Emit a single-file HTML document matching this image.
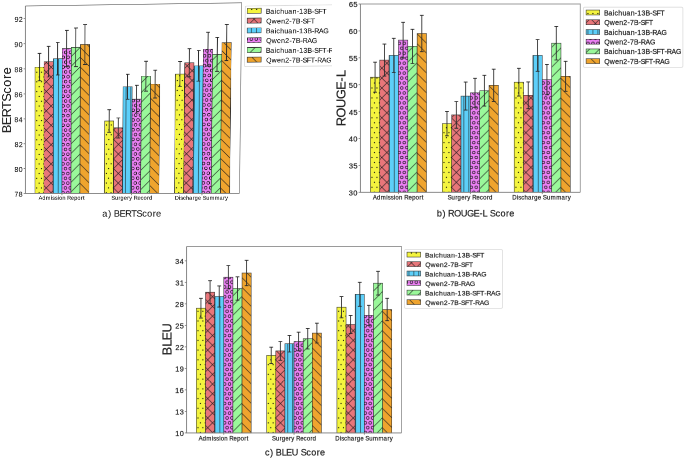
<!DOCTYPE html>
<html><head><meta charset="utf-8"><style>
html,body{margin:0;padding:0;background:#fff;width:685px;height:459px;overflow:hidden;}
svg{display:block;position:absolute;left:0;top:0;}
#cb{position:absolute;left:0;top:0;width:1370px;height:918px;transform-origin:0 0;transform:matrix3d(0.5,0,0,0.000000001,0,0.5,0,0,0,0,1,0,0,0,0,1);}
text{font-family:"Liberation Sans",sans-serif;}
#cb text{stroke:#222;stroke-width:0.2px;}
#ca text{stroke:#262626;stroke-width:0.12px;}
#ca{position:absolute;left:0;top:0;width:332.3px;height:232px;overflow:hidden;}
#ca div{position:absolute;left:0;top:0;width:720px;height:464px;transform-origin:0 0;transform:matrix3d(0.49516004,-0.00756736,0,-0.0000379299,0.00068394,0.50440580,0,0.0000269269,0,0,1,0,0.196928,0.321930,0,1);}
</style></head><body>
<div id="cb"><svg width="1370" height="918" viewBox="0 0 685 459">
<defs>
<pattern id="h0b" patternUnits="userSpaceOnUse" x="381.9" y="157.5" width="9.93" height="9.93"><rect width="9.93" height="9.93" fill="#f4f43e"/><circle cx="0" cy="0" r="0.62" fill="#111"/><circle cx="4.96" cy="0" r="0.62" fill="#111"/><circle cx="9.93" cy="0" r="0.62" fill="#111"/><circle cx="0" cy="9.93" r="0.62" fill="#111"/><circle cx="4.96" cy="9.93" r="0.62" fill="#111"/><circle cx="9.93" cy="9.93" r="0.62" fill="#111"/><circle cx="2.48" cy="4.96" r="0.62" fill="#111"/><circle cx="7.45" cy="4.96" r="0.62" fill="#111"/></pattern>
<pattern id="h1b" patternUnits="userSpaceOnUse" x="381.9" y="157.5" width="9.93" height="9.93"><rect width="9.93" height="9.93" fill="#e8767a"/><path d="M0 0L9.93 9.93M9.93 0L0 9.93" stroke="#1a1a1a" stroke-width="0.62" stroke-opacity="0.88"/></pattern>
<pattern id="h2b" patternUnits="userSpaceOnUse" x="381.9" y="157.5" width="9.93" height="9.93"><rect width="9.93" height="9.93" fill="#5dcff9"/><path d="M2.48 0V9.93M7.45 0V9.93" stroke="#1a1a1a" stroke-width="0.62" stroke-opacity="0.88"/></pattern>
<pattern id="h3b" patternUnits="userSpaceOnUse" x="381.9" y="157.5" width="9.93" height="9.93"><rect width="9.93" height="9.93" fill="#ec80f4"/><circle cx="0" cy="0" r="1.35" fill="none" stroke="#151515" stroke-width="0.6"/><circle cx="4.96" cy="0" r="1.35" fill="none" stroke="#151515" stroke-width="0.6"/><circle cx="9.93" cy="0" r="1.35" fill="none" stroke="#151515" stroke-width="0.6"/><circle cx="0" cy="9.93" r="1.35" fill="none" stroke="#151515" stroke-width="0.6"/><circle cx="4.96" cy="9.93" r="1.35" fill="none" stroke="#151515" stroke-width="0.6"/><circle cx="9.93" cy="9.93" r="1.35" fill="none" stroke="#151515" stroke-width="0.6"/><circle cx="2.48" cy="4.96" r="1.35" fill="none" stroke="#151515" stroke-width="0.6"/><circle cx="7.45" cy="4.96" r="1.35" fill="none" stroke="#151515" stroke-width="0.6"/></pattern>
<pattern id="h4b" patternUnits="userSpaceOnUse" x="381.9" y="157.5" width="9.93" height="9.93"><rect width="9.93" height="9.93" fill="#9af89a"/><path d="M0 9.93L9.93 0M-1 1L1 -1M8.93 10.93L10.93 8.93" stroke="#1a1a1a" stroke-width="0.62" stroke-opacity="0.88"/></pattern>
<pattern id="h5b" patternUnits="userSpaceOnUse" x="381.9" y="157.5" width="9.93" height="9.93"><rect width="9.93" height="9.93" fill="#efa42e"/><path d="M0 0L9.93 9.93M-1 8.93L1 10.93M8.93 -1L10.93 1" stroke="#1a1a1a" stroke-width="0.62" stroke-opacity="0.88"/></pattern>
<pattern id="h0c" patternUnits="userSpaceOnUse" x="207.7" y="388.9" width="9.7" height="9.7"><rect width="9.7" height="9.7" fill="#f4f43e"/><circle cx="0" cy="0" r="0.62" fill="#111"/><circle cx="4.85" cy="0" r="0.62" fill="#111"/><circle cx="9.7" cy="0" r="0.62" fill="#111"/><circle cx="0" cy="9.7" r="0.62" fill="#111"/><circle cx="4.85" cy="9.7" r="0.62" fill="#111"/><circle cx="9.7" cy="9.7" r="0.62" fill="#111"/><circle cx="2.42" cy="4.85" r="0.62" fill="#111"/><circle cx="7.27" cy="4.85" r="0.62" fill="#111"/></pattern>
<pattern id="h1c" patternUnits="userSpaceOnUse" x="207.7" y="388.9" width="9.7" height="9.7"><rect width="9.7" height="9.7" fill="#e8767a"/><path d="M0 0L9.7 9.7M9.7 0L0 9.7" stroke="#1a1a1a" stroke-width="0.62" stroke-opacity="0.88"/></pattern>
<pattern id="h2c" patternUnits="userSpaceOnUse" x="207.7" y="388.9" width="9.7" height="9.7"><rect width="9.7" height="9.7" fill="#5dcff9"/><path d="M2.42 0V9.7M7.27 0V9.7" stroke="#1a1a1a" stroke-width="0.62" stroke-opacity="0.88"/></pattern>
<pattern id="h3c" patternUnits="userSpaceOnUse" x="207.7" y="388.9" width="9.7" height="9.7"><rect width="9.7" height="9.7" fill="#ec80f4"/><circle cx="0" cy="0" r="1.35" fill="none" stroke="#151515" stroke-width="0.6"/><circle cx="4.85" cy="0" r="1.35" fill="none" stroke="#151515" stroke-width="0.6"/><circle cx="9.7" cy="0" r="1.35" fill="none" stroke="#151515" stroke-width="0.6"/><circle cx="0" cy="9.7" r="1.35" fill="none" stroke="#151515" stroke-width="0.6"/><circle cx="4.85" cy="9.7" r="1.35" fill="none" stroke="#151515" stroke-width="0.6"/><circle cx="9.7" cy="9.7" r="1.35" fill="none" stroke="#151515" stroke-width="0.6"/><circle cx="2.42" cy="4.85" r="1.35" fill="none" stroke="#151515" stroke-width="0.6"/><circle cx="7.27" cy="4.85" r="1.35" fill="none" stroke="#151515" stroke-width="0.6"/></pattern>
<pattern id="h4c" patternUnits="userSpaceOnUse" x="207.7" y="388.9" width="9.7" height="9.7"><rect width="9.7" height="9.7" fill="#9af89a"/><path d="M0 9.7L9.7 0M-1 1L1 -1M8.7 10.7L10.7 8.7" stroke="#1a1a1a" stroke-width="0.62" stroke-opacity="0.88"/></pattern>
<pattern id="h5c" patternUnits="userSpaceOnUse" x="207.7" y="388.9" width="9.7" height="9.7"><rect width="9.7" height="9.7" fill="#efa42e"/><path d="M0 0L9.7 9.7M-1 8.7L1 10.7M8.7 -1L10.7 1" stroke="#1a1a1a" stroke-width="0.62" stroke-opacity="0.88"/></pattern>
</defs>
<rect width="685" height="459" fill="#fff"/>
<rect x="370.4" y="77.2" width="9.35" height="115.1" fill="url(#h0b)" stroke="#222" stroke-width="0.55" stroke-opacity="0.9"/>
<rect x="379.74" y="60.1" width="9.35" height="132.2" fill="url(#h1b)" stroke="#222" stroke-width="0.55" stroke-opacity="0.9"/>
<rect x="389.09" y="55.4" width="9.35" height="136.9" fill="url(#h2b)" stroke="#222" stroke-width="0.55" stroke-opacity="0.9"/>
<rect x="398.44" y="40.1" width="9.35" height="152.2" fill="url(#h3b)" stroke="#222" stroke-width="0.55" stroke-opacity="0.9"/>
<rect x="407.79" y="46.4" width="9.35" height="145.9" fill="url(#h4b)" stroke="#222" stroke-width="0.55" stroke-opacity="0.9"/>
<rect x="417.14" y="33.5" width="9.35" height="158.8" fill="url(#h5b)" stroke="#222" stroke-width="0.55" stroke-opacity="0.9"/>
<rect x="442.31" y="123.6" width="9.35" height="68.7" fill="url(#h0b)" stroke="#222" stroke-width="0.55" stroke-opacity="0.9"/>
<rect x="451.65" y="114.9" width="9.35" height="77.4" fill="url(#h1b)" stroke="#222" stroke-width="0.55" stroke-opacity="0.9"/>
<rect x="461" y="96.1" width="9.35" height="96.2" fill="url(#h2b)" stroke="#222" stroke-width="0.55" stroke-opacity="0.9"/>
<rect x="470.35" y="92.8" width="9.35" height="99.5" fill="url(#h3b)" stroke="#222" stroke-width="0.55" stroke-opacity="0.9"/>
<rect x="479.7" y="90.7" width="9.35" height="101.6" fill="url(#h4b)" stroke="#222" stroke-width="0.55" stroke-opacity="0.9"/>
<rect x="489.05" y="85.3" width="9.35" height="107" fill="url(#h5b)" stroke="#222" stroke-width="0.55" stroke-opacity="0.9"/>
<rect x="514.21" y="82.2" width="9.35" height="110.1" fill="url(#h0b)" stroke="#222" stroke-width="0.55" stroke-opacity="0.9"/>
<rect x="523.56" y="95.3" width="9.35" height="97" fill="url(#h1b)" stroke="#222" stroke-width="0.55" stroke-opacity="0.9"/>
<rect x="532.91" y="55.4" width="9.35" height="136.9" fill="url(#h2b)" stroke="#222" stroke-width="0.55" stroke-opacity="0.9"/>
<rect x="542.26" y="79.6" width="9.35" height="112.7" fill="url(#h3b)" stroke="#222" stroke-width="0.55" stroke-opacity="0.9"/>
<rect x="551.61" y="43.2" width="9.35" height="149.1" fill="url(#h4b)" stroke="#222" stroke-width="0.55" stroke-opacity="0.9"/>
<rect x="560.96" y="76.3" width="9.35" height="116" fill="url(#h5b)" stroke="#222" stroke-width="0.55" stroke-opacity="0.9"/>
<path d="M375.07 62.2V92.2M373.17 62.2H376.97M373.17 92.2H376.97" stroke="#2a2a2a" stroke-width="0.85" fill="none"/>
<path d="M384.42 44.1V76.1M382.52 44.1H386.32M382.52 76.1H386.32" stroke="#2a2a2a" stroke-width="0.85" fill="none"/>
<path d="M393.77 38.3V72.5M391.87 38.3H395.67M391.87 72.5H395.67" stroke="#2a2a2a" stroke-width="0.85" fill="none"/>
<path d="M403.11 22.3V57.9M401.21 22.3H405.01M401.21 57.9H405.01" stroke="#2a2a2a" stroke-width="0.85" fill="none"/>
<path d="M412.46 29.3V63.5M410.56 29.3H414.36M410.56 63.5H414.36" stroke="#2a2a2a" stroke-width="0.85" fill="none"/>
<path d="M421.81 15.3V51.7M419.91 15.3H423.71M419.91 51.7H423.71" stroke="#2a2a2a" stroke-width="0.85" fill="none"/>
<path d="M446.98 111.4V135.8M445.08 111.4H448.88M445.08 135.8H448.88" stroke="#2a2a2a" stroke-width="0.85" fill="none"/>
<path d="M456.33 101.5V128.3M454.43 101.5H458.23M454.43 128.3H458.23" stroke="#2a2a2a" stroke-width="0.85" fill="none"/>
<path d="M465.68 82.1V110.1M463.78 82.1H467.58M463.78 110.1H467.58" stroke="#2a2a2a" stroke-width="0.85" fill="none"/>
<path d="M475.02 78.3V107.3M473.12 78.3H476.92M473.12 107.3H476.92" stroke="#2a2a2a" stroke-width="0.85" fill="none"/>
<path d="M484.37 75.3V106.1M482.47 75.3H486.27M482.47 106.1H486.27" stroke="#2a2a2a" stroke-width="0.85" fill="none"/>
<path d="M493.72 69.2V101.4M491.82 69.2H495.62M491.82 101.4H495.62" stroke="#2a2a2a" stroke-width="0.85" fill="none"/>
<path d="M518.89 68.3V96.1M516.99 68.3H520.79M516.99 96.1H520.79" stroke="#2a2a2a" stroke-width="0.85" fill="none"/>
<path d="M528.24 81.9V108.7M526.34 81.9H530.14M526.34 108.7H530.14" stroke="#2a2a2a" stroke-width="0.85" fill="none"/>
<path d="M537.59 39.5V71.3M535.69 39.5H539.49M535.69 71.3H539.49" stroke="#2a2a2a" stroke-width="0.85" fill="none"/>
<path d="M546.93 64.4V94.8M545.03 64.4H548.83M545.03 94.8H548.83" stroke="#2a2a2a" stroke-width="0.85" fill="none"/>
<path d="M556.28 26.4V60M554.38 26.4H558.18M554.38 60H558.18" stroke="#2a2a2a" stroke-width="0.85" fill="none"/>
<path d="M565.63 61.3V91.3M563.73 61.3H567.53M563.73 91.3H567.53" stroke="#2a2a2a" stroke-width="0.85" fill="none"/>
<path d="M360.4 4H580.3V192.3" fill="none" stroke="#9a9a9a" stroke-width="0.9"/>
<path d="M360.4 4V192.3H580.3" fill="none" stroke="#7a7a7a" stroke-width="0.9"/>
<line x1="358.6" y1="192.3" x2="360.4" y2="192.3" stroke="#7a7a7a" stroke-width="0.8"/>
<text x="348.77 353.31" y="195.45" font-size="7.51" fill="#262626">30</text>
<line x1="358.6" y1="165.4" x2="360.4" y2="165.4" stroke="#7a7a7a" stroke-width="0.8"/>
<text x="348.92 353.43" y="168.55" font-size="7.51" fill="#262626">35</text>
<line x1="358.6" y1="138.5" x2="360.4" y2="138.5" stroke="#7a7a7a" stroke-width="0.8"/>
<text x="348.76 353.31" y="141.65" font-size="7.51" fill="#262626">40</text>
<line x1="358.6" y1="111.6" x2="360.4" y2="111.6" stroke="#7a7a7a" stroke-width="0.8"/>
<text x="348.91 353.43" y="114.75" font-size="7.51" fill="#262626">45</text>
<line x1="358.6" y1="84.7" x2="360.4" y2="84.7" stroke="#7a7a7a" stroke-width="0.8"/>
<text x="348.73 353.31" y="87.85" font-size="7.51" fill="#262626">50</text>
<line x1="358.6" y1="57.8" x2="360.4" y2="57.8" stroke="#7a7a7a" stroke-width="0.8"/>
<text x="348.88 353.43" y="60.95" font-size="7.51" fill="#262626">55</text>
<line x1="358.6" y1="30.9" x2="360.4" y2="30.9" stroke="#7a7a7a" stroke-width="0.8"/>
<text x="348.76 353.31" y="34.05" font-size="7.51" fill="#262626">60</text>
<line x1="358.6" y1="4" x2="360.4" y2="4" stroke="#7a7a7a" stroke-width="0.8"/>
<text x="348.91 353.43" y="7.15" font-size="7.51" fill="#262626">65</text>
<line x1="398.44" y1="192.3" x2="398.44" y2="194.1" stroke="#7a7a7a" stroke-width="0.8"/>
<text x="372.82 376.93 380.78 386.23 387.73 390.74 393.85 395.4 399 402.58 404.25 408.45 412.08 415.64 419.38 421.74" y="199.6" font-size="6.06" fill="#262626">Admission Report</text>
<line x1="470.35" y1="192.3" x2="470.35" y2="194.1" stroke="#7a7a7a" stroke-width="0.8"/>
<text x="447.6 451.55 455.37 457.56 461.22 464.95 467.23 470.53 472.2 476.4 479.85 483.1 486.84 489.03" y="199.6" font-size="6.06" fill="#262626">Surgery Record</text>
<line x1="542.26" y1="192.3" x2="542.26" y2="194.1" stroke="#7a7a7a" stroke-width="0.8"/>
<text x="512.24 516.77 518.27 521.25 524.56 527.94 531.9 534.09 537.75 541.27 542.87 546.82 550.65 556.27 561.46 565.41 567.69" y="199.6" font-size="6.06" fill="#262626">Discharge Summary</text>
<text transform="translate(345.4,0) rotate(-90)" x="-126.19 -117.67 -108.02 -99.15 -89.87 -81.61 -77.17" y="0" font-size="12.85" fill="#262626">ROUGE-L</text>
<text x="436.88 442.49 445.57 448.06 454.07 460.87 467.12 473.66 479.49 482.62 487.48 489.87 495.59 500.45 506.04 509.31" y="216.6" font-size="9.06" fill="#262626">b) ROUGE-L Score</text>
<rect x="583.4" y="7.2" width="99.5" height="60.2" rx="1.5" fill="#fff" fill-opacity="0.8" stroke="#dcdcdc" stroke-width="0.8"/>
<rect x="586.1" y="10.05" width="13.6" height="4.9" fill="url(#h0b)" stroke="#333" stroke-width="0.55"/>
<text x="603.99 608.44 612.8 614.49 618.3 622.47 626.36 630.75 634.81 637.3 641.55 645.53 650.16 652.33 656.48 660.42" y="15.3" font-size="6.95" fill="#262626">Baichuan-13B-SFT</text>
<rect x="586.1" y="19.75" width="13.6" height="4.9" fill="url(#h1b)" stroke="#333" stroke-width="0.55"/>
<text x="604.23 609.73 615.07 619.21 623.31 627.47 629.98 633.98 638.61 640.78 644.93 648.88" y="25" font-size="6.95" fill="#262626">Qwen2-7B-SFT</text>
<rect x="586.1" y="29.55" width="13.6" height="4.9" fill="url(#h2b)" stroke="#333" stroke-width="0.55"/>
<text x="603.99 608.44 612.8 614.49 618.3 622.47 626.36 630.75 634.81 637.3 641.55 645.53 650.16 652.41 657.06 661.5" y="34.8" font-size="6.95" fill="#262626">Baichuan-13B-RAG</text>
<rect x="586.1" y="39.25" width="13.6" height="4.9" fill="url(#h3b)" stroke="#333" stroke-width="0.55"/>
<text x="604.23 609.73 615.07 619.21 623.31 627.47 629.98 633.98 638.61 640.86 645.51 649.95" y="44.5" font-size="6.95" fill="#262626">Qwen2-7B-RAG</text>
<rect x="586.1" y="48.95" width="13.6" height="4.9" fill="url(#h4b)" stroke="#333" stroke-width="0.55"/>
<text x="603.99 608.44 612.8 614.49 618.3 622.47 626.36 630.75 634.81 637.3 641.55 645.53 650.16 652.33 656.48 660.42 664.6 666.85 671.5 675.95" y="54.2" font-size="6.95" fill="#262626">Baichuan-13B-SFT-RAG</text>
<rect x="586.1" y="58.65" width="13.6" height="4.9" fill="url(#h5b)" stroke="#333" stroke-width="0.55"/>
<text x="604.23 609.73 615.07 619.21 623.31 627.47 629.98 633.98 638.61 640.78 644.93 648.88 653.06 655.3 659.95 664.4" y="63.9" font-size="6.95" fill="#262626">Qwen2-7B-SFT-RAG</text>
<rect x="196.37" y="308.2" width="9.14" height="124.7" fill="url(#h0c)" stroke="#222" stroke-width="0.55" stroke-opacity="0.9"/>
<rect x="205.5" y="292.2" width="9.14" height="140.7" fill="url(#h1c)" stroke="#222" stroke-width="0.55" stroke-opacity="0.9"/>
<rect x="214.64" y="296.5" width="9.14" height="136.4" fill="url(#h2c)" stroke="#222" stroke-width="0.55" stroke-opacity="0.9"/>
<rect x="223.78" y="277.2" width="9.14" height="155.7" fill="url(#h3c)" stroke="#222" stroke-width="0.55" stroke-opacity="0.9"/>
<rect x="232.91" y="288.5" width="9.14" height="144.4" fill="url(#h4c)" stroke="#222" stroke-width="0.55" stroke-opacity="0.9"/>
<rect x="242.05" y="273" width="9.14" height="159.9" fill="url(#h5c)" stroke="#222" stroke-width="0.55" stroke-opacity="0.9"/>
<rect x="266.64" y="355.4" width="9.14" height="77.5" fill="url(#h0c)" stroke="#222" stroke-width="0.55" stroke-opacity="0.9"/>
<rect x="275.78" y="350.9" width="9.14" height="82" fill="url(#h1c)" stroke="#222" stroke-width="0.55" stroke-opacity="0.9"/>
<rect x="284.91" y="343.7" width="9.14" height="89.2" fill="url(#h2c)" stroke="#222" stroke-width="0.55" stroke-opacity="0.9"/>
<rect x="294.05" y="341.5" width="9.14" height="91.4" fill="url(#h3c)" stroke="#222" stroke-width="0.55" stroke-opacity="0.9"/>
<rect x="303.19" y="338.7" width="9.14" height="94.2" fill="url(#h4c)" stroke="#222" stroke-width="0.55" stroke-opacity="0.9"/>
<rect x="312.32" y="333.1" width="9.14" height="99.8" fill="url(#h5c)" stroke="#222" stroke-width="0.55" stroke-opacity="0.9"/>
<rect x="336.92" y="307.2" width="9.14" height="125.7" fill="url(#h0c)" stroke="#222" stroke-width="0.55" stroke-opacity="0.9"/>
<rect x="346.05" y="324.5" width="9.14" height="108.4" fill="url(#h1c)" stroke="#222" stroke-width="0.55" stroke-opacity="0.9"/>
<rect x="355.19" y="294.3" width="9.14" height="138.6" fill="url(#h2c)" stroke="#222" stroke-width="0.55" stroke-opacity="0.9"/>
<rect x="364.32" y="315.4" width="9.14" height="117.5" fill="url(#h3c)" stroke="#222" stroke-width="0.55" stroke-opacity="0.9"/>
<rect x="373.46" y="283.2" width="9.14" height="149.7" fill="url(#h4c)" stroke="#222" stroke-width="0.55" stroke-opacity="0.9"/>
<rect x="382.6" y="309.5" width="9.14" height="123.4" fill="url(#h5c)" stroke="#222" stroke-width="0.55" stroke-opacity="0.9"/>
<path d="M200.94 298.3V318.1M199.04 298.3H202.84M199.04 318.1H202.84" stroke="#2a2a2a" stroke-width="0.85" fill="none"/>
<path d="M210.07 280.7V303.7M208.17 280.7H211.97M208.17 303.7H211.97" stroke="#2a2a2a" stroke-width="0.85" fill="none"/>
<path d="M219.21 285.9V307.1M217.31 285.9H221.11M217.31 307.1H221.11" stroke="#2a2a2a" stroke-width="0.85" fill="none"/>
<path d="M228.34 265.5V288.9M226.44 265.5H230.24M226.44 288.9H230.24" stroke="#2a2a2a" stroke-width="0.85" fill="none"/>
<path d="M237.48 276.8V300.2M235.58 276.8H239.38M235.58 300.2H239.38" stroke="#2a2a2a" stroke-width="0.85" fill="none"/>
<path d="M246.61 260.3V285.7M244.71 260.3H248.51M244.71 285.7H248.51" stroke="#2a2a2a" stroke-width="0.85" fill="none"/>
<path d="M271.21 347.2V363.6M269.31 347.2H273.11M269.31 363.6H273.11" stroke="#2a2a2a" stroke-width="0.85" fill="none"/>
<path d="M280.35 341.5V360.3M278.45 341.5H282.25M278.45 360.3H282.25" stroke="#2a2a2a" stroke-width="0.85" fill="none"/>
<path d="M289.48 335.4V352M287.58 335.4H291.38M287.58 352H291.38" stroke="#2a2a2a" stroke-width="0.85" fill="none"/>
<path d="M298.62 332.2V350.8M296.72 332.2H300.52M296.72 350.8H300.52" stroke="#2a2a2a" stroke-width="0.85" fill="none"/>
<path d="M307.75 328.4V349M305.85 328.4H309.65M305.85 349H309.65" stroke="#2a2a2a" stroke-width="0.85" fill="none"/>
<path d="M316.89 323.2V343M314.99 323.2H318.79M314.99 343H318.79" stroke="#2a2a2a" stroke-width="0.85" fill="none"/>
<path d="M341.49 296.6V317.8M339.59 296.6H343.39M339.59 317.8H343.39" stroke="#2a2a2a" stroke-width="0.85" fill="none"/>
<path d="M350.62 315.4V333.6M348.72 315.4H352.52M348.72 333.6H352.52" stroke="#2a2a2a" stroke-width="0.85" fill="none"/>
<path d="M359.76 282.3V306.3M357.86 282.3H361.66M357.86 306.3H361.66" stroke="#2a2a2a" stroke-width="0.85" fill="none"/>
<path d="M368.89 305.3V325.5M366.99 305.3H370.79M366.99 325.5H370.79" stroke="#2a2a2a" stroke-width="0.85" fill="none"/>
<path d="M378.03 271.3V295.1M376.13 271.3H379.93M376.13 295.1H379.93" stroke="#2a2a2a" stroke-width="0.85" fill="none"/>
<path d="M387.16 298.3V320.7M385.26 298.3H389.06M385.26 320.7H389.06" stroke="#2a2a2a" stroke-width="0.85" fill="none"/>
<path d="M186.6 246.5H401.5V432.9" fill="none" stroke="#9a9a9a" stroke-width="0.9"/>
<path d="M186.6 246.5V432.9H401.5" fill="none" stroke="#7a7a7a" stroke-width="0.9"/>
<line x1="184.8" y1="432.9" x2="186.6" y2="432.9" stroke="#7a7a7a" stroke-width="0.8"/>
<text x="175.2 179.69" y="435.85" font-size="7.35" fill="#262626">10</text>
<line x1="184.8" y1="411.39" x2="186.6" y2="411.39" stroke="#7a7a7a" stroke-width="0.8"/>
<text x="175.3 179.8" y="414.34" font-size="7.35" fill="#262626">13</text>
<line x1="184.8" y1="389.88" x2="186.6" y2="389.88" stroke="#7a7a7a" stroke-width="0.8"/>
<text x="175.18 179.67" y="392.83" font-size="7.35" fill="#262626">16</text>
<line x1="184.8" y1="368.38" x2="186.6" y2="368.38" stroke="#7a7a7a" stroke-width="0.8"/>
<text x="175.23 179.7" y="371.33" font-size="7.35" fill="#262626">19</text>
<line x1="184.8" y1="346.87" x2="186.6" y2="346.87" stroke="#7a7a7a" stroke-width="0.8"/>
<text x="175.38 179.84" y="349.82" font-size="7.35" fill="#262626">22</text>
<line x1="184.8" y1="325.36" x2="186.6" y2="325.36" stroke="#7a7a7a" stroke-width="0.8"/>
<text x="175.29 179.81" y="328.31" font-size="7.35" fill="#262626">25</text>
<line x1="184.8" y1="303.85" x2="186.6" y2="303.85" stroke="#7a7a7a" stroke-width="0.8"/>
<text x="175.16 179.71" y="306.8" font-size="7.35" fill="#262626">28</text>
<line x1="184.8" y1="282.35" x2="186.6" y2="282.35" stroke="#7a7a7a" stroke-width="0.8"/>
<text x="175.43 179.84" y="285.3" font-size="7.35" fill="#262626">31</text>
<line x1="184.8" y1="260.84" x2="186.6" y2="260.84" stroke="#7a7a7a" stroke-width="0.8"/>
<text x="175.18 179.62" y="263.79" font-size="7.35" fill="#262626">34</text>
<line x1="223.78" y1="432.9" x2="223.78" y2="434.7" stroke="#7a7a7a" stroke-width="0.8"/>
<text x="198.6 202.63 206.41 211.76 213.23 216.18 219.23 220.75 224.29 227.8 229.43 233.55 237.12 240.61 244.28 246.59" y="440.3" font-size="5.94" fill="#262626">Admission Report</text>
<line x1="294.05" y1="432.9" x2="294.05" y2="434.7" stroke="#7a7a7a" stroke-width="0.8"/>
<text x="272.03 275.91 279.65 281.8 285.39 289.05 291.28 294.52 296.16 300.28 303.66 306.85 310.52 312.67" y="440.3" font-size="5.94" fill="#262626">Surgery Record</text>
<line x1="364.32" y1="432.9" x2="364.32" y2="434.7" stroke="#7a7a7a" stroke-width="0.8"/>
<text x="335.3 339.74 341.22 344.14 347.39 350.7 354.59 356.74 360.32 363.78 365.35 369.23 372.98 378.49 383.58 387.46 389.69" y="440.3" font-size="5.94" fill="#262626">Discharge Summary</text>
<text transform="translate(171.6,0) rotate(-90)" x="-355.41 -346.8 -340.52 -332.47" y="0" font-size="12.87" fill="#262626">BLEU</text>
<text x="265.04 270.16 273.22 275.75 281.78 286.17 291.81 298.31 300.69 306.38 311.21 316.77 320.02" y="455.5" font-size="9.01" fill="#262626">c) BLEU Score</text>
<rect x="404.5" y="249.5" width="98" height="58.9" rx="1.5" fill="#fff" fill-opacity="0.8" stroke="#dcdcdc" stroke-width="0.8"/>
<rect x="407" y="252.15" width="13.6" height="4.9" fill="url(#h0c)" stroke="#333" stroke-width="0.55"/>
<text x="425.01 429.35 433.62 435.27 438.99 443.07 446.87 451.16 455.13 457.56 461.72 465.6 470.13 472.25 476.31 480.16" y="257.4" font-size="6.79" fill="#262626">Baichuan-13B-SFT</text>
<rect x="407" y="261.65" width="13.6" height="4.9" fill="url(#h1c)" stroke="#333" stroke-width="0.55"/>
<text x="425.24 430.62 435.84 439.88 443.88 447.95 450.41 454.31 458.84 460.97 465.02 468.87" y="266.9" font-size="6.79" fill="#262626">Qwen2-7B-SFT</text>
<rect x="407" y="271.05" width="13.6" height="4.9" fill="url(#h2c)" stroke="#333" stroke-width="0.55"/>
<text x="425.01 429.35 433.62 435.27 438.99 443.07 446.87 451.16 455.13 457.56 461.72 465.6 470.13 472.33 476.87 481.22" y="276.3" font-size="6.79" fill="#262626">Baichuan-13B-RAG</text>
<rect x="407" y="280.55" width="13.6" height="4.9" fill="url(#h3c)" stroke="#333" stroke-width="0.55"/>
<text x="425.24 430.62 435.84 439.88 443.88 447.95 450.41 454.31 458.84 461.04 465.58 469.93" y="285.8" font-size="6.79" fill="#262626">Qwen2-7B-RAG</text>
<rect x="407" y="290.15" width="13.6" height="4.9" fill="url(#h4c)" stroke="#333" stroke-width="0.55"/>
<text x="425.01 429.35 433.62 435.27 438.99 443.07 446.87 451.16 455.13 457.56 461.72 465.6 470.13 472.25 476.31 480.16 484.25 486.44 490.99 495.33" y="295.4" font-size="6.79" fill="#262626">Baichuan-13B-SFT-RAG</text>
<rect x="407" y="299.65" width="13.6" height="4.9" fill="url(#h5c)" stroke="#333" stroke-width="0.55"/>
<text x="425.24 430.62 435.84 439.88 443.88 447.95 450.41 454.31 458.84 460.97 465.02 468.87 472.96 475.16 479.7 484.04" y="304.9" font-size="6.79" fill="#262626">Qwen2-7B-SFT-RAG</text>
</svg></div>
<div id="ca"><div><svg width="720" height="464" viewBox="0 0 360 232">
<defs>
<pattern id="h0a" patternUnits="userSpaceOnUse" x="46.57" y="158.9" width="9.67" height="9.67"><rect width="9.67" height="9.67" fill="#f4f43e"/><circle cx="0" cy="0" r="0.62" fill="#111"/><circle cx="4.83" cy="0" r="0.62" fill="#111"/><circle cx="9.67" cy="0" r="0.62" fill="#111"/><circle cx="0" cy="9.67" r="0.62" fill="#111"/><circle cx="4.83" cy="9.67" r="0.62" fill="#111"/><circle cx="9.67" cy="9.67" r="0.62" fill="#111"/><circle cx="2.42" cy="4.83" r="0.62" fill="#111"/><circle cx="7.25" cy="4.83" r="0.62" fill="#111"/></pattern>
<pattern id="h1a" patternUnits="userSpaceOnUse" x="46.57" y="158.9" width="9.67" height="9.67"><rect width="9.67" height="9.67" fill="#e8767a"/><path d="M0 0L9.67 9.67M9.67 0L0 9.67" stroke="#1a1a1a" stroke-width="0.62" stroke-opacity="0.88"/></pattern>
<pattern id="h2a" patternUnits="userSpaceOnUse" x="46.57" y="158.9" width="9.67" height="9.67"><rect width="9.67" height="9.67" fill="#5dcff9"/><path d="M2.42 0V9.67M7.25 0V9.67" stroke="#1a1a1a" stroke-width="0.62" stroke-opacity="0.88"/></pattern>
<pattern id="h3a" patternUnits="userSpaceOnUse" x="46.57" y="158.9" width="9.67" height="9.67"><rect width="9.67" height="9.67" fill="#ec80f4"/><circle cx="0" cy="0" r="1.35" fill="none" stroke="#151515" stroke-width="0.6"/><circle cx="4.83" cy="0" r="1.35" fill="none" stroke="#151515" stroke-width="0.6"/><circle cx="9.67" cy="0" r="1.35" fill="none" stroke="#151515" stroke-width="0.6"/><circle cx="0" cy="9.67" r="1.35" fill="none" stroke="#151515" stroke-width="0.6"/><circle cx="4.83" cy="9.67" r="1.35" fill="none" stroke="#151515" stroke-width="0.6"/><circle cx="9.67" cy="9.67" r="1.35" fill="none" stroke="#151515" stroke-width="0.6"/><circle cx="2.42" cy="4.83" r="1.35" fill="none" stroke="#151515" stroke-width="0.6"/><circle cx="7.25" cy="4.83" r="1.35" fill="none" stroke="#151515" stroke-width="0.6"/></pattern>
<pattern id="h4a" patternUnits="userSpaceOnUse" x="46.57" y="158.9" width="9.67" height="9.67"><rect width="9.67" height="9.67" fill="#9af89a"/><path d="M0 9.67L9.67 0M-1 1L1 -1M8.67 10.67L10.67 8.67" stroke="#1a1a1a" stroke-width="0.62" stroke-opacity="0.88"/></pattern>
<pattern id="h5a" patternUnits="userSpaceOnUse" x="46.57" y="158.9" width="9.67" height="9.67"><rect width="9.67" height="9.67" fill="#efa42e"/><path d="M0 0L9.67 9.67M-1 8.67L1 10.67M8.67 -1L10.67 1" stroke="#1a1a1a" stroke-width="0.62" stroke-opacity="0.88"/></pattern>
<pattern id="h0la" patternUnits="userSpaceOnUse" x="246.9" y="7.67" width="9.67" height="9.67"><rect width="9.67" height="9.67" fill="#f4f43e"/><circle cx="0" cy="0" r="0.62" fill="#111"/><circle cx="4.83" cy="0" r="0.62" fill="#111"/><circle cx="9.67" cy="0" r="0.62" fill="#111"/><circle cx="0" cy="9.67" r="0.62" fill="#111"/><circle cx="4.83" cy="9.67" r="0.62" fill="#111"/><circle cx="9.67" cy="9.67" r="0.62" fill="#111"/><circle cx="2.42" cy="4.83" r="0.62" fill="#111"/><circle cx="7.25" cy="4.83" r="0.62" fill="#111"/></pattern>
<pattern id="h1la" patternUnits="userSpaceOnUse" x="246.9" y="7.67" width="9.67" height="9.67"><rect width="9.67" height="9.67" fill="#e8767a"/><path d="M0 0L9.67 9.67M9.67 0L0 9.67" stroke="#1a1a1a" stroke-width="0.62" stroke-opacity="0.88"/></pattern>
<pattern id="h2la" patternUnits="userSpaceOnUse" x="246.9" y="7.67" width="9.67" height="9.67"><rect width="9.67" height="9.67" fill="#5dcff9"/><path d="M2.42 0V9.67M7.25 0V9.67" stroke="#1a1a1a" stroke-width="0.62" stroke-opacity="0.88"/></pattern>
<pattern id="h3la" patternUnits="userSpaceOnUse" x="246.9" y="7.67" width="9.67" height="9.67"><rect width="9.67" height="9.67" fill="#ec80f4"/><circle cx="0" cy="0" r="1.35" fill="none" stroke="#151515" stroke-width="0.6"/><circle cx="4.83" cy="0" r="1.35" fill="none" stroke="#151515" stroke-width="0.6"/><circle cx="9.67" cy="0" r="1.35" fill="none" stroke="#151515" stroke-width="0.6"/><circle cx="0" cy="9.67" r="1.35" fill="none" stroke="#151515" stroke-width="0.6"/><circle cx="4.83" cy="9.67" r="1.35" fill="none" stroke="#151515" stroke-width="0.6"/><circle cx="9.67" cy="9.67" r="1.35" fill="none" stroke="#151515" stroke-width="0.6"/><circle cx="2.42" cy="4.83" r="1.35" fill="none" stroke="#151515" stroke-width="0.6"/><circle cx="7.25" cy="4.83" r="1.35" fill="none" stroke="#151515" stroke-width="0.6"/></pattern>
<pattern id="h4la" patternUnits="userSpaceOnUse" x="246.9" y="7.67" width="9.67" height="9.67"><rect width="9.67" height="9.67" fill="#9af89a"/><path d="M0 9.67L9.67 0M-1 1L1 -1M8.67 10.67L10.67 8.67" stroke="#1a1a1a" stroke-width="0.62" stroke-opacity="0.88"/></pattern>
<pattern id="h5la" patternUnits="userSpaceOnUse" x="246.9" y="7.67" width="9.67" height="9.67"><rect width="9.67" height="9.67" fill="#efa42e"/><path d="M0 0L9.67 9.67M-1 8.67L1 10.67M8.67 -1L10.67 1" stroke="#1a1a1a" stroke-width="0.62" stroke-opacity="0.88"/></pattern>
</defs>
<rect x="35.13" y="66.83" width="9.1" height="126.57" fill="url(#h0a)" stroke="#222" stroke-width="0.55" stroke-opacity="0.9"/>
<rect x="44.23" y="61.55" width="9.1" height="131.85" fill="url(#h1a)" stroke="#222" stroke-width="0.55" stroke-opacity="0.9"/>
<rect x="53.34" y="58.67" width="9.1" height="134.73" fill="url(#h2a)" stroke="#222" stroke-width="0.55" stroke-opacity="0.9"/>
<rect x="62.44" y="48.65" width="9.1" height="144.75" fill="url(#h3a)" stroke="#222" stroke-width="0.55" stroke-opacity="0.9"/>
<rect x="71.54" y="47.56" width="9.1" height="145.84" fill="url(#h4a)" stroke="#222" stroke-width="0.55" stroke-opacity="0.9"/>
<rect x="80.64" y="44.89" width="9.1" height="148.51" fill="url(#h5a)" stroke="#222" stroke-width="0.55" stroke-opacity="0.9"/>
<rect x="105.14" y="121.06" width="9.1" height="72.34" fill="url(#h0a)" stroke="#222" stroke-width="0.55" stroke-opacity="0.9"/>
<rect x="114.25" y="128.08" width="9.1" height="65.32" fill="url(#h1a)" stroke="#222" stroke-width="0.55" stroke-opacity="0.9"/>
<rect x="123.35" y="87.11" width="9.1" height="106.29" fill="url(#h2a)" stroke="#222" stroke-width="0.55" stroke-opacity="0.9"/>
<rect x="132.45" y="99.58" width="9.1" height="93.82" fill="url(#h3a)" stroke="#222" stroke-width="0.55" stroke-opacity="0.9"/>
<rect x="141.55" y="76.88" width="9.1" height="116.52" fill="url(#h4a)" stroke="#222" stroke-width="0.55" stroke-opacity="0.9"/>
<rect x="150.65" y="84.77" width="9.1" height="108.63" fill="url(#h5a)" stroke="#222" stroke-width="0.55" stroke-opacity="0.9"/>
<rect x="175.16" y="75.12" width="9.1" height="118.28" fill="url(#h0a)" stroke="#222" stroke-width="0.55" stroke-opacity="0.9"/>
<rect x="184.26" y="64.08" width="9.1" height="129.32" fill="url(#h1a)" stroke="#222" stroke-width="0.55" stroke-opacity="0.9"/>
<rect x="193.36" y="67.13" width="9.1" height="126.27" fill="url(#h2a)" stroke="#222" stroke-width="0.55" stroke-opacity="0.9"/>
<rect x="202.46" y="50.91" width="9.1" height="142.49" fill="url(#h3a)" stroke="#222" stroke-width="0.55" stroke-opacity="0.9"/>
<rect x="211.56" y="56.12" width="9.1" height="137.28" fill="url(#h4a)" stroke="#222" stroke-width="0.55" stroke-opacity="0.9"/>
<rect x="220.67" y="44.65" width="9.1" height="148.75" fill="url(#h5a)" stroke="#222" stroke-width="0.55" stroke-opacity="0.9"/>
<path d="M39.68 53.1V80.56M37.78 53.1H41.58M37.78 80.56H41.58" stroke="#2a2a2a" stroke-width="0.85" fill="none"/>
<path d="M48.78 46.35V76.75M46.88 46.35H50.68M46.88 76.75H50.68" stroke="#2a2a2a" stroke-width="0.85" fill="none"/>
<path d="M57.89 42.49V74.84M55.99 42.49H59.79M55.99 74.84H59.79" stroke="#2a2a2a" stroke-width="0.85" fill="none"/>
<path d="M66.99 30.62V66.67M65.09 30.62H68.89M65.09 66.67H68.89" stroke="#2a2a2a" stroke-width="0.85" fill="none"/>
<path d="M76.09 28.46V66.66M74.19 28.46H77.99M74.19 66.66H77.99" stroke="#2a2a2a" stroke-width="0.85" fill="none"/>
<path d="M85.19 25.12V64.67M83.29 25.12H87.09M83.29 64.67H87.09" stroke="#2a2a2a" stroke-width="0.85" fill="none"/>
<path d="M109.7 109.81V132.3M107.8 109.81H111.6M107.8 132.3H111.6" stroke="#2a2a2a" stroke-width="0.85" fill="none"/>
<path d="M118.8 118.13V138.03M116.9 118.13H120.7M116.9 138.03H120.7" stroke="#2a2a2a" stroke-width="0.85" fill="none"/>
<path d="M127.9 74.83V99.39M126 74.83H129.8M126 99.39H129.8" stroke="#2a2a2a" stroke-width="0.85" fill="none"/>
<path d="M137 85.81V113.35M135.1 85.81H138.9M135.1 113.35H138.9" stroke="#2a2a2a" stroke-width="0.85" fill="none"/>
<path d="M146.1 62.07V91.7M144.2 62.07H148M144.2 91.7H148" stroke="#2a2a2a" stroke-width="0.85" fill="none"/>
<path d="M155.2 70.94V98.6M153.3 70.94H157.1M153.3 98.6H157.1" stroke="#2a2a2a" stroke-width="0.85" fill="none"/>
<path d="M179.71 62.61V87.63M177.81 62.61H181.61M177.81 87.63H181.61" stroke="#2a2a2a" stroke-width="0.85" fill="none"/>
<path d="M188.81 50.22V77.95M186.91 50.22H190.71M186.91 77.95H190.71" stroke="#2a2a2a" stroke-width="0.85" fill="none"/>
<path d="M197.91 51.99V82.26M196.01 51.99H199.81M196.01 82.26H199.81" stroke="#2a2a2a" stroke-width="0.85" fill="none"/>
<path d="M207.01 34.35V67.48M205.11 34.35H208.91M205.11 67.48H208.91" stroke="#2a2a2a" stroke-width="0.85" fill="none"/>
<path d="M216.12 39.45V72.78M214.22 39.45H218.02M214.22 72.78H218.02" stroke="#2a2a2a" stroke-width="0.85" fill="none"/>
<path d="M225.22 26.95V62.36M223.32 26.95H227.12M223.32 62.36H227.12" stroke="#2a2a2a" stroke-width="0.85" fill="none"/>
<path d="M25.4 6H239.5V193.4" fill="none" stroke="#9a9a9a" stroke-width="0.9"/>
<path d="M25.4 6V193.4H239.5" fill="none" stroke="#7a7a7a" stroke-width="0.9"/>
<line x1="23.6" y1="193.4" x2="25.4" y2="193.4" stroke="#7a7a7a" stroke-width="0.8"/>
<text x="14.2 18.55" y="196.73 196.73" font-size="7.16" fill="#262626">78</text>
<line x1="23.6" y1="168.41" x2="25.4" y2="168.41" stroke="#7a7a7a" stroke-width="0.8"/>
<text x="14.22 18.55" y="171.71 171.72" font-size="7.15" fill="#262626">80</text>
<line x1="23.6" y1="143.43" x2="25.4" y2="143.43" stroke="#7a7a7a" stroke-width="0.8"/>
<text x="14.46 18.7" y="146.7 146.72" font-size="7.14" fill="#262626">82</text>
<line x1="23.6" y1="118.44" x2="25.4" y2="118.44" stroke="#7a7a7a" stroke-width="0.8"/>
<text x="14.18 18.5" y="121.68 121.71" font-size="7.13" fill="#262626">84</text>
<line x1="23.6" y1="93.45" x2="25.4" y2="93.45" stroke="#7a7a7a" stroke-width="0.8"/>
<text x="14.24 18.55" y="96.67 96.7" font-size="7.12" fill="#262626">86</text>
<line x1="23.6" y1="68.47" x2="25.4" y2="68.47" stroke="#7a7a7a" stroke-width="0.8"/>
<text x="14.29 18.6" y="71.65 71.69" font-size="7.11" fill="#262626">88</text>
<line x1="23.6" y1="43.48" x2="25.4" y2="43.48" stroke="#7a7a7a" stroke-width="0.8"/>
<text x="14.27 18.6" y="46.63 46.68" font-size="7.1" fill="#262626">90</text>
<line x1="23.6" y1="18.49" x2="25.4" y2="18.49" stroke="#7a7a7a" stroke-width="0.8"/>
<text x="14.51 18.74" y="21.62 21.68" font-size="7.09" fill="#262626">92</text>
<line x1="62.44" y1="193.4" x2="62.44" y2="195.2" stroke="#7a7a7a" stroke-width="0.8"/>
<text x="38.86 42.63 46.17 51.18 52.56 55.32 58.17 59.59 62.9 66.17 67.7 71.55 74.87 78.12 81.54 83.69" y="199.77 199.77 199.77 199.77 199.77 199.77 199.77 199.77 199.77 199.77 199.77 199.77 199.77 199.77 199.77 199.77" font-size="5.57" fill="#262626">Admission Report</text>
<line x1="132.45" y1="193.4" x2="132.45" y2="195.2" stroke="#7a7a7a" stroke-width="0.8"/>
<text x="112.27 115.87 119.33 121.33 124.65 128.04 130.1 133.09 134.61 138.41 141.54 144.48 147.86 149.85" y="199.76 199.76 199.76 199.76 199.76 199.76 199.76 199.76 199.76 199.76 199.76 199.76 199.76 199.76" font-size="5.51" fill="#262626">Surgery Record</text>
<line x1="202.46" y1="193.4" x2="202.46" y2="195.2" stroke="#7a7a7a" stroke-width="0.8"/>
<text x="175.68 179.76 181.11 183.79 186.78 189.81 193.37 195.34 198.62 201.78 203.22 206.76 210.19 215.23 219.87 223.41 225.45" y="199.76 199.76 199.76 199.76 199.76 199.76 199.76 199.76 199.76 199.76 199.76 199.76 199.76 199.76 199.76 199.76 199.76" font-size="5.45" fill="#262626">Discharge Summary</text>
<text transform="translate(10.72,-0.58) rotate(-90)" x="-133.21 -125.25 -117.33 -108.91 -101.66 -93.63 -86.81 -78.97 -74.38" y="0" font-size="12.72" fill="#262626">BERTScore</text>
<text x="103.11 109.08 112.19 114.77 120.5 126.2 132.26 137.46 143.22 148.11 153.73 157.02" y="216.76 216.76 216.75 216.75 216.74 216.73 216.72 216.72 216.71 216.7 216.7 216.69" font-size="9.17" fill="#262626">a) BERTScore</text>
<rect x="242.95" y="9.26" width="97.42" height="59.31" rx="1.5" fill="#fff" fill-opacity="0.8" stroke="#dcdcdc" stroke-width="0.8"/>
<rect x="244.95" y="11.52" width="13.6" height="4.9" fill="url(#h0la)" stroke="#333" stroke-width="0.55"/>
<text x="263.15 267.46 271.69 273.33 277.01 281.05 284.81 289.05 292.96 295.36 299.47 303.3 307.76 309.85 313.85 317.64" y="16.95 17.01 17.07 17.09 17.14 17.2 17.25 17.31 17.37 17.4 17.46 17.51 17.57 17.6 17.66 17.71" font-size="6.73" fill="#262626">Baichuan-13B-SFT</text>
<rect x="245.06" y="21.07" width="13.6" height="4.9" fill="url(#h1la)" stroke="#333" stroke-width="0.55"/>
<text x="263.51 268.84 274.01 278.02 281.98 286.01 288.44 292.3 296.77 298.87 302.87 306.67" y="26.5 26.57 26.64 26.69 26.74 26.79 26.83 26.88 26.94 26.97 27.02 27.07" font-size="6.74" fill="#262626">Qwen2-7B-SFT</text>
<rect x="245.17" y="30.63" width="13.6" height="4.9" fill="url(#h2la)" stroke="#333" stroke-width="0.55"/>
<text x="263.4 267.71 271.94 273.58 277.27 281.31 285.08 289.32 293.24 295.64 299.75 303.58 308.05 310.22 314.7 318.97" y="36.05 36.1 36.15 36.17 36.22 36.27 36.32 36.37 36.42 36.45 36.5 36.55 36.61 36.63 36.69 36.74" font-size="6.74" fill="#262626">Baichuan-13B-RAG</text>
<rect x="245.29" y="40.11" width="13.6" height="4.9" fill="url(#h3la)" stroke="#333" stroke-width="0.55"/>
<text x="263.75 269.09 274.27 278.28 282.25 286.28 288.71 292.57 297.05 299.22 303.71 308" y="45.51 45.58 45.64 45.69 45.73 45.78 45.81 45.85 45.91 45.93 45.99 46.04" font-size="6.74" fill="#262626">Qwen2-7B-RAG</text>
<rect x="245.4" y="49.69" width="13.6" height="4.9" fill="url(#h4la)" stroke="#333" stroke-width="0.55"/>
<text x="263.64 267.96 272.19 273.84 277.52 281.57 285.34 289.59 293.51 295.92 300.03 303.87 308.34 310.43 314.44 318.23 322.26 324.42 328.9 333.17" y="55.08 55.13 55.18 55.2 55.24 55.28 55.32 55.37 55.41 55.44 55.49 55.53 55.58 55.6 55.65 55.69 55.73 55.76 55.81 55.85" font-size="6.75" fill="#262626">Baichuan-13B-SFT-RAG</text>
<rect x="245.51" y="59.19" width="13.6" height="4.9" fill="url(#h5la)" stroke="#333" stroke-width="0.55"/>
<text x="264 269.34 274.52 278.53 282.51 286.54 288.98 292.84 297.33 299.43 303.44 307.24 311.28 313.45 317.93 322.21" y="64.57 64.63 64.68 64.72 64.76 64.8 64.83 64.87 64.91 64.94 64.98 65.02 65.06 65.08 65.13 65.17" font-size="6.75" fill="#262626">Qwen2-7B-SFT-RAG</text>
</svg></div></div>
</body></html>
